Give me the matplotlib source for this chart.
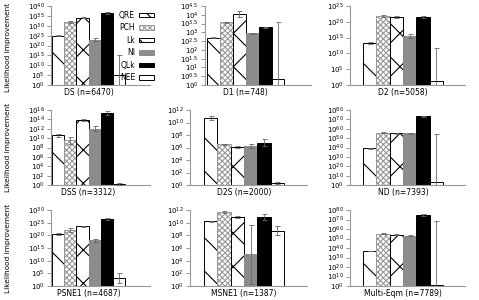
import matplotlib
matplotlib.use("Agg")
import matplotlib.pyplot as plt
import numpy as np

plt.rcParams['font.family'] = ['DejaVu Sans']
plt.rcParams['mathtext.default'] = 'regular'
plt.rcParams['hatch.linewidth'] = 0.8

models = ['QRE', 'PCH', 'Lk', 'NI', 'QLk', 'NEE']

# panel names, sample sizes, log10 likelihood improvement and error (log10 units)
panels = ['DS', 'D1', 'D2', 'DSS', 'D2S', 'ND', 'PSNE1', 'MSNE1', 'Multi-Eqm']
sizes = [6470, 748, 5058, 3312, 2000, 7393, 4687, 1387, 7789]
ytop = [40, 4.5, 25, 16, 12, 80, 30, 12, 80]
ystep = [5, 0.5, 5, 2, 2, 10, 5, 2, 10]

vals = [
    [25, 32, 34, 23, 36.5, 5],
    [2.7, 3.58, 4.05, 2.95, 3.28, 0.33],
    [13.2, 21.8, 21.5, 15.5, 21.5, 1.2],
    [10.6, 9.5, 13.8, 12.0, 15.3, 0.25],
    [10.7, 6.5, 6.1, 6.3, 6.8, 0.3],
    [39, 56, 55, 55, 73.5, 3],
    [20.5, 22, 23.5, 18, 26.5, 3],
    [10.2, 11.7, 10.9, 5.0, 10.9, 8.7],
    [37, 55, 54, 53, 74.5, 1.5],
]
errs = [
    [0.3, 0.5, 0.3, 0.8, 0.3, 10],
    [0.02, 0.03, 0.15, 0.02, 0.05, 3.27],
    [0.3, 0.2, 0.2, 0.5, 0.2, 10.4],
    [0.3, 0.8, 0.2, 0.5, 0.4, 0.25],
    [0.3, 0.1, 0.2, 0.3, 0.5, 0.15],
    [0.3, 0.8, 0.5, 0.3, 0.5, 51],
    [0.4, 0.8, 0.3, 0.7, 0.3, 2],
    [0.05, 0.1, 0.1, 4.7, 0.5, 0.7],
    [0.3, 0.3, 0.3, 0.3, 0.8, 66.5],
]

# bar styles
faces = ['white', 'white', 'white', '#8c8c8c', 'black', 'white']
edges = ['black', '#999999', 'black', '#8c8c8c', 'black', 'black']
hatches = ['\\', 'xxxxxx', 'x', None, None, None]

# layout in pixels: axis left, axis right, first bar left, bar width
W, H = 479, 300
cols = [(51, 150, 52, 12.2), (205, 311, 207, 12.9), (350, 465, 363, 13.3)]
cols_alt = {4: (190, 307, 204, 13.3), 7: (190, 307, 204, 13.3)}
rows = [(6, 85), (110, 185), (210, 286)]

fig = plt.figure(figsize=(W / 100, H / 100), dpi=100)

for i, name in enumerate(panels):
    r, c = divmod(i, 3)
    al, ar, bl, bw = cols_alt.get(i, cols[c])
    top, base = rows[r]
    ax = fig.add_axes([al / W, 1 - base / H, (ar - al) / W, (base - top) / H])
    ax.set_yscale('log')

    v = np.array(vals[i])
    e = np.array(errs[i])
    x = np.arange(6)
    h = 10.0 ** v
    bars = ax.bar(x, h - 1, bottom=1, width=1, align='edge', color=faces,
                  edgecolor=edges, linewidth=0.7, zorder=2)
    for b, ht in zip(bars, hatches):
        if ht:
            b.set_hatch(ht)
    lo = h - 10.0 ** (v - e)
    hi = 10.0 ** (v + e) - h
    ax.errorbar(x + 0.5, h, yerr=[lo, hi], fmt='none', ecolor='#666666',
                elinewidth=0.6, capsize=1.8, capthick=0.6, zorder=3)

    ax.set_xlim((al - bl) / bw, (ar - bl) / bw)
    ax.set_ylim(1, 10.0 ** ytop[i])
    ks = np.arange(0, ytop[i] + ystep[i] / 2, ystep[i])
    ax.set_yticks(10.0 ** ks)
    ax.set_yticklabels([f'$10^{{{k:g}}}$' for k in ks], fontsize=5.0)
    ax.minorticks_off()
    ax.set_xticks([3])
    ax.set_xticklabels([f'{name} (n={sizes[i]})'], fontsize=5.5)
    ax.tick_params(axis='x', length=0, pad=2.5)
    ax.tick_params(axis='y', length=3, width=0.6, color='#888888', pad=1.5)
    for s in ['top', 'right']:
        ax.spines[s].set_visible(False)
    for s in ['left', 'bottom']:
        ax.spines[s].set_color('#999999')
        ax.spines[s].set_linewidth(0.8)
    if c == 0:
        yc = max((top + base) / 2, 47)
        fig.text(8 / W, 1 - yc / H, 'Likelihood improvement',
                 rotation=90, fontsize=5.3, ha='center', va='center')
    if i == 0:
        ax.legend(bars, models, loc='upper right', frameon=False,
                  bbox_to_anchor=(158 / W, 1 - 7 / H), bbox_transform=fig.transFigure,
                  markerfirst=False, fontsize=5.5, handlelength=2.0,
                  handleheight=0.55, labelspacing=0.45, borderpad=0,
                  handletextpad=0.5)

fig.savefig('out.png', dpi=100)
